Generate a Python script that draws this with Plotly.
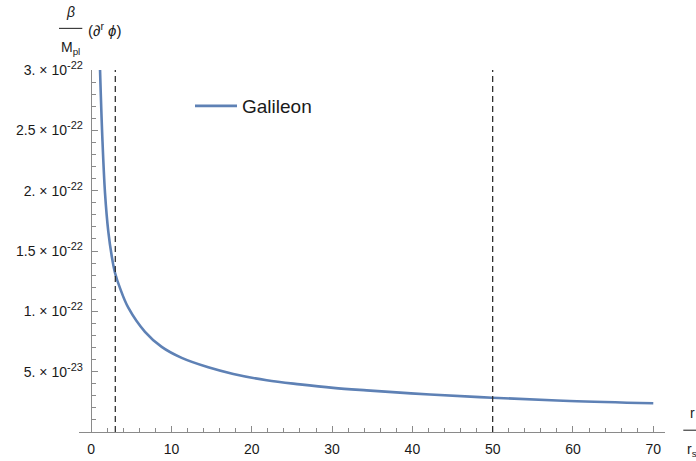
import plotly.graph_objects as go

# ---- data ----
r_vals = [1.10, 1.38, 1.72, 2.13, 2.55, 2.96, 3.6, 4.62, 6.70, 8.78, 11.27, 14.58, 17.7,
          21.86, 26.0, 30.15, 34.3, 38.46, 42.2, 49.95, 59.6, 70.0]
galileon = [3.0e-22, 2.45e-22, 1.98e-22, 1.66e-22, 1.46e-22, 1.32e-22, 1.19e-22, 1.03e-22,
            8.30e-23, 7.05e-23, 6.14e-23, 5.36e-23, 4.81e-23, 4.29e-23, 3.95e-23, 3.66e-23,
            3.45e-23, 3.26e-23, 3.11e-23, 2.84e-23, 2.57e-23, 2.38e-23]
ref_lines = [3, 50]
x_ticks = [0, 10, 20, 30, 40, 50, 60, 70]
y_ticks = [5e-23, 1e-22, 1.5e-22, 2e-22, 2.5e-22, 3e-22]
y_mant = ["5.", "1.", "1.5", "2.", "2.5", "3."]
y_exp = ["-23", "-22", "-22", "-22", "-22", "-22"]

# ---- geometry ----
W, H = 696, 461
ML, MR, MT, MB = 79, 31, 70, 28.5
PW, PH = W - ML - MR, H - MT - MB
X_RANGE = [-1.52, 71.46]
Y_RANGE = [0, 3e-22]


def px(x):
    return (x - ML) / PW


def py(y):
    return (H - MB - y) / PH


FONT = "Liberation Sans, Arial, sans-serif"
AXIS_COL = "#8a8a8a"
TXT_COL = "#1a1a1a"
CURVE = "#5E81B5"

y_tick_text = [f'{m} × 10<sup><span style="font-size:11px">{e}</span></sup>'
               for m, e in zip(y_mant, y_exp)]

fig = go.Figure()
fig.add_trace(go.Scatter(x=r_vals, y=galileon, mode="lines", name="Galileon",
                         line=dict(color=CURVE, width=2.6, shape="spline", smoothing=1.0)))

for xv in ref_lines:
    fig.add_shape(type="line", xref="x", yref="y", x0=xv, x1=xv, y0=Y_RANGE[0], y1=Y_RANGE[1],
                  line=dict(color="#222222", width=1.2, dash="6px,4px"))


def label(text, x, y, xanchor="center", size=14):
    fig.add_annotation(text=text, xref="paper", yref="paper", x=px(x), y=py(y),
                       xanchor=xanchor, yanchor="middle", showarrow=False,
                       font=dict(size=size, family=FONT, color=TXT_COL))


# axis label fraction (top-left)
label("<i>β</i>", 70.5, 12)
fig.add_shape(type="line", xref="paper", yref="paper", x0=px(59), x1=px(82.3), y0=py(28.3), y1=py(28.3),
              line=dict(color=TXT_COL, width=1))
label("M<sub>pl</sub>", 70.5, 48)
label("(∂<sup>r</sup> <i>ϕ</i>)", 86, 29.5, xanchor="left", size=15)

# x-axis label fraction (bottom-right, partly cut off)
label("r", 687.5, 413, xanchor="left")
fig.add_shape(type="line", xref="paper", yref="paper", x0=px(683.3), x1=px(700), y0=py(430.7), y1=py(430.7),
              line=dict(color=TXT_COL, width=1))
label("r<sub>s</sub>", 684.5, 451, xanchor="left")

fig.update_layout(
    width=W, height=H, template="none",
    paper_bgcolor="white", plot_bgcolor="white",
    margin=dict(l=ML, r=MR, t=MT, b=MB, pad=0),
    font=dict(family=FONT, color=TXT_COL, size=13),
    showlegend=True,
    legend=dict(x=px(190), y=py(87), xanchor="left", yanchor="top", bgcolor="rgba(0,0,0,0)",
                font=dict(size=19, family=FONT, color=TXT_COL), borderwidth=0, itemwidth=42),
    xaxis=dict(range=X_RANGE, showgrid=False, zeroline=False, showline=True, linecolor=AXIS_COL,
               linewidth=1, ticks="inside", ticklen=6, tickcolor=AXIS_COL, tickwidth=1,
               tickmode="array", tickvals=x_ticks, ticktext=[str(v) for v in x_ticks],
               tickfont=dict(size=14, family=FONT, color=TXT_COL), ticklabelstandoff=4,
               minor=dict(ticks="inside", ticklen=4, tickcolor=AXIS_COL, tick0=0, dtick=2, showgrid=False),
               automargin=False),
    yaxis=dict(range=Y_RANGE, showgrid=False, zeroline=False, showline=True, linecolor=AXIS_COL,
               linewidth=1, ticks="inside", ticklen=6, tickcolor=AXIS_COL, tickwidth=1,
               anchor="free", position=(90.7 - ML) / PW,
               tickmode="array", tickvals=y_ticks, ticktext=y_tick_text,
               tickfont=dict(size=14, family=FONT, color=TXT_COL), ticklabelstandoff=5,
               minor=dict(ticks="inside", ticklen=4, tickcolor=AXIS_COL, tick0=0, dtick=1e-23, showgrid=False),
               automargin=False),
)

fig.write_html("out.html")
